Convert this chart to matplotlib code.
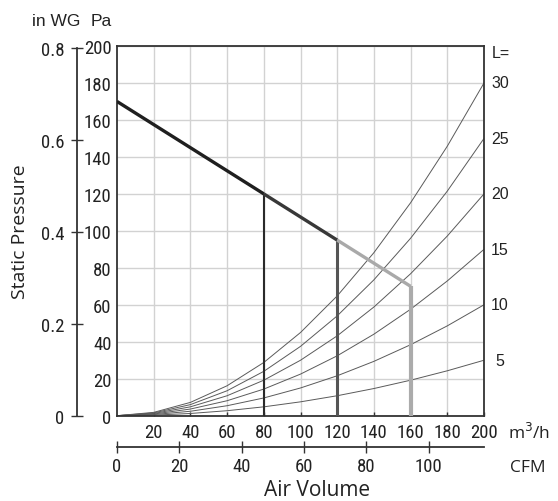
import matplotlib
matplotlib.use("Agg")
import os
import matplotlib.pyplot as plt
from matplotlib import font_manager as fm
from matplotlib.font_manager import FontProperties

# ---------------- data ----------------
flow_m3h = [0, 20, 40, 60, 80, 100, 120, 140, 160, 180, 200]
duct_lengths = [5, 10, 15, 20, 25, 30]
duct_curves = {
    5:  [0, 0.3, 1.2, 2.7, 4.8, 7.5, 10.8, 14.7, 19.2, 24.3, 30],
    10: [0, 0.6, 2.4, 5.4, 9.6, 15, 21.6, 29.4, 38.4, 48.6, 60],
    15: [0, 0.9, 3.6, 8.1, 14.4, 22.5, 32.4, 44.1, 57.6, 72.9, 90],
    20: [0, 1.2, 4.8, 10.8, 19.2, 30, 43.2, 58.8, 76.8, 97.2, 120],
    25: [0, 1.5, 6, 13.5, 24, 37.5, 54, 73.5, 96, 121.5, 150],
    30: [0, 1.8, 7.2, 16.2, 28.8, 45, 64.8, 88.2, 115.2, 145.8, 180],
}
fan_flow = [0, 80, 120, 160]
fan_pressure = [170, 120, 95, 70]
segment_colors = ["#1f1f1f", "#383838", "#a9a9a9"]
vertical_colors = ["#2a2a2a", "#555555", "#ababab"]
vertical_widths = [1.5, 2.2, 3.0]

pa_ticks = list(range(0, 201, 20))
m3h_ticks = list(range(20, 201, 20))
cfm_ticks = [0, 20, 40, 60, 80, 100]
inwg_ticks = [0, 0.2, 0.4, 0.6, 0.8]
inwg_labels = ["0", "0.2", "0.4", "0.6", "0.8"]

M3H_PER_CFM = 1.69901
PA_PER_INWG = 248.84

# ---------------- fonts ----------------
def find_condensed():
    prefs = ["Liberation Sans Narrow", "Roboto Condensed", "Open Sans Condensed",
             "Noto Sans Condensed", "DejaVu Sans Condensed", "Arial Narrow"]
    cands = []
    for f in fm.fontManager.ttflist:
        base = os.path.basename(f.fname).lower()
        nm = f.name
        is_cond = (str(f.stretch) in ("condensed", "semi-condensed", "extra-condensed")
                   or "condensed" in base or "narrow" in base
                   or "Condensed" in nm or "Narrow" in nm)
        if not is_cond:
            continue
        if "bold" in base or "italic" in base or "oblique" in base or "light" in base \
                or "medium" in base or "black" in base or "thin" in base:
            continue
        if f.style != "normal":
            continue
        if f.weight not in (400, "normal", "regular"):
            continue
        cands.append(f)
    def rank(f):
        for i, p in enumerate(prefs):
            if p.lower().replace(" ", "") in (f.name + os.path.basename(f.fname)).lower().replace(" ", ""):
                return i
        return len(prefs)
    cands.sort(key=rank)
    return cands[0].fname if cands else None

cond_path = find_condensed()
if cond_path:
    NUM_FP = FontProperties(fname=cond_path, size=13.5)
else:
    NUM_FP = FontProperties(family="Liberation Sans", size=11.5)
LABEL_FONT = "Open Sans"
ARIAL = "Liberation Sans"

W, H = 558, 502
fig = plt.figure(figsize=(W / 100, H / 100), dpi=100)

def fx(px):
    return px / W

def fy(py):
    return 1 - py / H

left, right, top, bottom = 117, 484, 47, 416.7
ax = fig.add_axes([fx(left), fy(bottom), fx(right - left), (bottom - top) / H])
ax.set_xlim(0, 200)
ax.set_ylim(0, 200)

spine_c = "#333333"
txt_c = "#222222"
for s in ax.spines.values():
    s.set_color(spine_c)
    s.set_linewidth(1.3)

ax.set_xticks(m3h_ticks)
ax.set_yticks(pa_ticks)
ax.grid(True, color="#d2d2d2", linewidth=1.0)
ax.set_axisbelow(True)
ax.tick_params(axis="x", direction="in", length=3, width=1, color=spine_c, pad=5)
ax.tick_params(axis="y", direction="in", length=0, pad=4)
for lab in ax.get_xticklabels() + ax.get_yticklabels():
    lab.set_fontproperties(NUM_FP)
    lab.set_color(txt_c)

# duct curves
for L in duct_lengths:
    ax.plot(flow_m3h, duct_curves[L], color="#5a5a5a", linewidth=0.7, zorder=2)
    ax.annotate(str(L), xy=(200, duct_curves[L][-1]), xytext=(16, 0),
                textcoords="offset pixels", ha="center", va="center",
                fontsize=11.5, fontfamily=ARIAL, color=txt_c,
                annotation_clip=False)
ax.annotate("L=", xy=(200, 200), xytext=(17, -7), textcoords="offset pixels",
            ha="center", va="center", fontsize=11.5, fontfamily=ARIAL,
            color=txt_c, annotation_clip=False)

# fan line
for i in range(len(fan_flow) - 1):
    ax.plot(fan_flow[i:i + 2], fan_pressure[i:i + 2], color=segment_colors[i],
            linewidth=2.4, solid_capstyle="butt", zorder=4)
for i, (q, p) in enumerate(zip(fan_flow[1:], fan_pressure[1:])):
    ax.plot([q, q], [0, p], color=vertical_colors[i], linewidth=vertical_widths[i],
            solid_capstyle="butt", zorder=3)

# inWG axis
ax_wg = ax.twinx()
ax_wg.set_ylim(0, 200 / PA_PER_INWG)
ax_wg.yaxis.set_ticks_position("left")
ax_wg.yaxis.set_label_position("left")
for k in ["top", "right", "bottom"]:
    ax_wg.spines[k].set_visible(False)
ax_wg.spines["left"].set_position(("outward", 40 * 0.72))
ax_wg.spines["left"].set_bounds(0, 0.8)
ax_wg.spines["left"].set_color(spine_c)
ax_wg.spines["left"].set_linewidth(1.3)
ax_wg.set_yticks(inwg_ticks)
ax_wg.set_yticklabels(inwg_labels)
ax_wg.tick_params(axis="y", direction="inout", length=8, width=1, color=spine_c, pad=5)
for lab in ax_wg.get_yticklabels():
    lab.set_fontproperties(NUM_FP)
    lab.set_color(txt_c)

# CFM axis
ax_cfm = ax.twiny()
ax_cfm.set_xlim(0, 200 / M3H_PER_CFM)
ax_cfm.xaxis.set_ticks_position("bottom")
ax_cfm.xaxis.set_label_position("bottom")
for k in ["top", "right", "left"]:
    ax_cfm.spines[k].set_visible(False)
ax_cfm.spines["bottom"].set_position(("outward", 31.3 * 0.72))
ax_cfm.spines["bottom"].set_color(spine_c)
ax_cfm.spines["bottom"].set_linewidth(1.3)
ax_cfm.set_xticks(cfm_ticks)
ax_cfm.tick_params(axis="x", direction="inout", length=8, width=1, color=spine_c, pad=3)
for lab in ax_cfm.get_xticklabels():
    lab.set_fontproperties(NUM_FP)
    lab.set_color(txt_c)

# text labels
fig.text(fx(508), fy(433), "m$^3$/h", fontsize=12.5, fontfamily=LABEL_FONT,
         ha="left", va="center", color=txt_c)
fig.text(fx(510), fy(468), "CFM", fontsize=12.5, fontfamily=LABEL_FONT,
         ha="left", va="center", color=txt_c)
fig.text(fx(317), fy(491), "Air Volume", fontsize=15, fontfamily=LABEL_FONT,
         ha="center", va="center", color=txt_c)
fig.text(fx(20), fy(232), "Static Pressure", fontsize=14, fontfamily=LABEL_FONT,
         ha="center", va="center", rotation=90, color=txt_c)
fig.text(fx(32), fy(22), "in WG", fontsize=12.5, fontfamily=ARIAL,
         ha="left", va="center", color=txt_c)
fig.text(fx(91), fy(22), "Pa", fontsize=12.5, fontfamily=ARIAL,
         ha="left", va="center", color=txt_c)

fig.savefig("out.png", dpi=100)
